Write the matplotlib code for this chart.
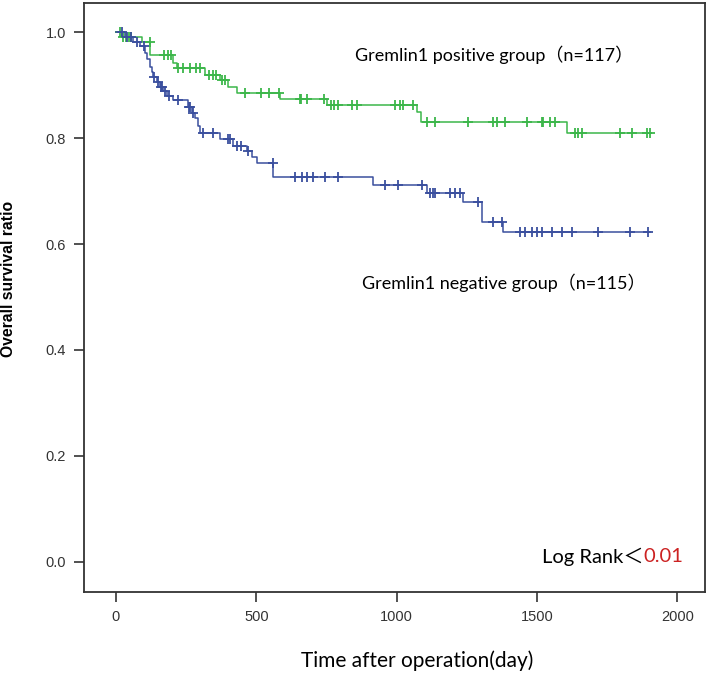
import numpy as np
import matplotlib
matplotlib.use("Agg")
import matplotlib.pyplot as plt

# ---- data ----
pos_times = [0, 20, 91, 121, 204, 216, 317, 371, 400, 430, 584, 751, 1072, 1087, 1606, 1903]
pos_surv = [1.0, 0.991, 0.982, 0.957, 0.941, 0.932, 0.919, 0.909, 0.896, 0.885, 0.874, 0.862, 0.850, 0.831, 0.810, 0.810]
pos_censor = [15, 25, 35, 45, 55, 120, 170, 185, 197, 222, 240, 262, 285, 300, 330, 345, 355, 378, 390,
              460, 515, 545, 580, 655, 660, 680, 740, 766, 778, 790, 840, 860, 994, 1012, 1023, 1058,
              1107, 1137, 1256, 1345, 1357, 1386, 1464, 1517, 1523, 1547, 1565, 1636, 1648, 1660,
              1796, 1838, 1891, 1903]

neg_times = [0, 32, 62, 86, 103, 109, 121, 127, 133, 145, 157, 169, 181, 204, 258, 270, 282, 293, 299,
             371, 418, 466, 484, 501, 561, 917, 1107, 1238, 1303, 1380, 1903]
neg_surv = [1.0, 0.991, 0.982, 0.973, 0.960, 0.950, 0.935, 0.925, 0.915, 0.905, 0.897, 0.888, 0.880,
            0.872, 0.859, 0.848, 0.838, 0.823, 0.809, 0.798, 0.785, 0.775, 0.765, 0.753, 0.726,
            0.711, 0.696, 0.680, 0.642, 0.623, 0.623]
neg_censor = [20, 40, 55, 75, 100, 135, 150, 160, 165, 175, 190, 222, 260, 265, 275, 310, 345, 400, 405,
              430, 445, 470, 560, 638, 662, 680, 703, 745, 792, 959, 1006, 1089, 1119, 1131, 1137,
              1190, 1208, 1226, 1291, 1345, 1375, 1440, 1458, 1482, 1499, 1517, 1553, 1589, 1624,
              1719, 1832, 1897]

x_ticks = [0, 500, 1000, 1500, 2000]
y_ticks = [0.0, 0.2, 0.4, 0.6, 0.8, 1.0]

GREEN = "#3cb64a"
BLUE = "#3a4f9e"

fig = plt.figure(figsize=(7.08, 6.80), dpi=100)
ax = fig.add_axes([84 / 708, 88 / 680, 621 / 708, 589 / 680])


def surv_at(times, surv, t):
    idx = np.searchsorted(times, t, side="right") - 1
    return np.asarray(surv)[idx]


for times, surv, cens, col in [(pos_times, pos_surv, pos_censor, GREEN),
                                (neg_times, neg_surv, neg_censor, BLUE)]:
    ax.step(times, surv, where="post", color=col, lw=1.1)
    cy = [surv_at(times, surv, c) for c in cens]
    ax.plot(cens, cy, linestyle="none", marker="+", color=col, markersize=7, mew=1.3)

ax.set_xlim(-114, 2099)
ax.set_ylim(-0.057, 1.055)
ax.set_xticks(x_ticks)
ax.set_yticks(y_ticks)
ax.set_xticklabels([str(v) for v in x_ticks], fontfamily="Liberation Sans", fontsize=10.5, color="#333333")
ax.set_yticklabels([f"{v:.1f}" for v in y_ticks], fontfamily="Liberation Sans", fontsize=10.5, color="#333333")
ax.tick_params(direction="out", length=7, width=1.2, color="#333333", pad=6)
for s in ax.spines.values():
    s.set_linewidth(1.3)
    s.set_color("#333333")

ax.set_ylabel("Overall survival ratio", fontfamily="Liberation Sans", fontweight="bold", fontsize=11.3)
ax.yaxis.set_label_coords(-0.1095, 0.531)
ax.set_xlabel("Time after operation(day)", fontfamily=["Lato", "DejaVu Sans"], fontsize=15)
ax.xaxis.set_label_coords(0.536, -0.10)

txtfam = ["Lato", "Noto Sans CJK SC", "DejaVu Sans"]
ax.text(852, 0.957, "Gremlin1 positive group（n=117）", fontfamily=txtfam, fontsize=13, va="center", ha="left")
ax.text(877, 0.526, "Gremlin1 negative group（n=115）", fontfamily=txtfam, fontsize=13, va="center", ha="left")

t1 = ax.text(1518, 0.010, "Log Rank＜", fontfamily=txtfam, fontsize=14.5, va="center", ha="left")
fig.canvas.draw()
bb = t1.get_window_extent(renderer=fig.canvas.get_renderer())
x_end = ax.transData.inverted().transform((bb.x1, bb.y0))[0]
ax.text(x_end, 0.010, "0.01", fontfamily=txtfam, fontsize=14.5, va="center", ha="left", color="#cc2222")

fig.savefig("out.png", dpi=100)
